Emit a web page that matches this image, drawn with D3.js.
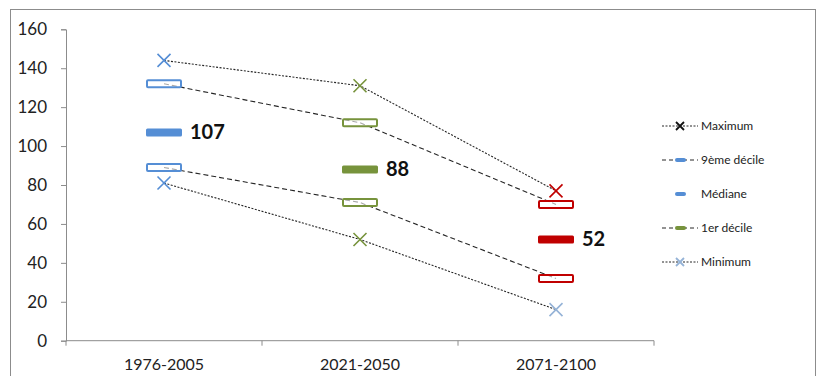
<!DOCTYPE html>
<html>
<head>
<meta charset="utf-8">
<script src="https://cdn.jsdelivr.net/npm/d3@7"></script>
<style>
  body { margin: 0; background: #fff; }
  svg { display: block; font-family: Lato, "Open Sans", sans-serif; }
</style>
</head>
<body>
<div id="chart"></div>
<script>
// data
const periods = ["1976-2005", "2021-2050", "2071-2100"];
const maximum = [144, 131, 77];
const decile9 = [132, 112, 70];
const mediane = [107, 88, 52];
const decile1 = [89, 71, 32];
const minimum = [81, 52, 16];
const yTicks = [0, 20, 40, 60, 80, 100, 120, 140, 160];

const periodColors = ["#558ED5", "#77933C", "#C00000"];
const minColors = ["#558ED5", "#77933C", "#95B3D7"];

const width = 821, height = 376;

const svg = d3.select("#chart").append("svg")
    .attr("width", width)
    .attr("height", height);

// outer frame (bottom is cut off in the original)
svg.append("rect")
    .attr("x", 10.5).attr("y", 9.5)
    .attr("width", 805).attr("height", 420)
    .attr("fill", "#fff")
    .attr("stroke", "#8c8c8c");

const x = d3.scaleBand().domain(periods).range([66, 654]);
const y = d3.scaleLinear().domain([0, 160]).range([340.7, 29.3]);
const cx = p => x(p) + x.bandwidth() / 2;

// y axis
const yAxis = svg.append("g")
    .attr("transform", "translate(66,0)")
    .call(d3.axisLeft(y).tickValues(yTicks).tickSize(5).tickPadding(14));
yAxis.selectAll("path, line").attr("stroke", "#8c8c8c");
yAxis.selectAll("text")
    .attr("font-size", 17)
    .attr("fill", "#222")
    .attr("font-family", "Lato, sans-serif");

// x axis
const xAxis = svg.append("g")
    .attr("transform", `translate(0,${y(0)})`)
    .call(d3.axisBottom(x).tickSize(0).tickPadding(18));
xAxis.select("path").attr("stroke", "#8c8c8c").attr("d", `M66,0H654`);
xAxis.selectAll("text")
    .attr("font-size", 16)
    .attr("fill", "#222")
    .attr("font-family", "Lato, sans-serif");
// boundary ticks between categories
const bounds = periods.map(p => x(p)).concat([x(periods[2]) + x.bandwidth()]);
svg.append("g").selectAll("line")
    .data(bounds)
    .join("line")
    .attr("x1", d => d).attr("x2", d => d)
    .attr("y1", y(0)).attr("y2", y(0) + 5)
    .attr("stroke", "#8c8c8c");

// connecting lines
const line = d3.line().x((d, i) => cx(periods[i])).y(d => y(d));
const lineSeries = [
  { vals: maximum, dash: "2,1.5" },
  { vals: decile9, dash: "5,3" },
  { vals: decile1, dash: "5,3" },
  { vals: minimum, dash: "2,1.5" }
];
svg.append("g").selectAll("path")
    .data(lineSeries)
    .join("path")
    .attr("d", d => line(d.vals))
    .attr("fill", "none")
    .attr("stroke", "#262626")
    .attr("stroke-width", 1.1)
    .attr("stroke-dasharray", d => d.dash);

// X markers
function cross(g, px, py, r, color, sw) {
  g.append("path")
      .attr("d", `M${px - r},${py - r}L${px + r},${py + r}M${px - r},${py + r}L${px + r},${py - r}`)
      .attr("stroke", color)
      .attr("stroke-width", sw)
      .attr("fill", "none");
}
const marks = svg.append("g");
periods.forEach((p, i) => {
  cross(marks, cx(p), y(maximum[i]), 6.5, periodColors[i], 1.6);
  cross(marks, cx(p), y(minimum[i]), 6.5, minColors[i], 1.6);
});

// decile boxes (hollow)
const boxW = 34, boxH = 7;
[decile9, decile1].forEach(vals => {
  marks.selectAll(null)
      .data(vals)
      .join("rect")
      .attr("x", (d, i) => cx(periods[i]) - boxW / 2)
      .attr("y", d => y(d) - boxH / 2)
      .attr("width", boxW).attr("height", boxH)
      .attr("rx", 1)
      .attr("fill", "#fff")
      .attr("fill-opacity", 0.6)
      .attr("stroke", (d, i) => periodColors[i])
      .attr("stroke-width", 2);
});

// median bars + labels
marks.selectAll(null)
    .data(mediane)
    .join("rect")
    .attr("x", (d, i) => cx(periods[i]) - 18)
    .attr("y", d => y(d) - 4)
    .attr("width", 36).attr("height", 8)
    .attr("rx", 1.5)
    .attr("fill", (d, i) => periodColors[i]);

marks.selectAll(null)
    .data(mediane)
    .join("text")
    .attr("x", (d, i) => cx(periods[i]) + 26)
    .attr("y", d => y(d) + 7)
    .attr("font-size", 20)
    .attr("font-weight", "bold")
    .attr("fill", "#111")
    .text(d => d);

// legend
const legendItems = [
  { name: "Maximum", type: "x", color: "#111", dash: "2,1.5" },
  { name: "9ème décile", type: "bar", color: "#558ED5", dash: "4,3" },
  { name: "Médiane", type: "bar", color: "#558ED5", dash: null },
  { name: "1er décile", type: "bar", color: "#77933C", dash: "4,3" },
  { name: "Minimum", type: "x", color: "#95B3D7", dash: "2,1.5" }
];
const legend = svg.append("g");
legendItems.forEach((it, i) => {
  const ly = 126 + i * 34;
  const g = legend.append("g");
  if (it.dash) {
    g.append("line")
        .attr("x1", 662).attr("x2", 698)
        .attr("y1", ly).attr("y2", ly)
        .attr("stroke", "#262626")
        .attr("stroke-dasharray", it.dash);
  }
  if (it.type === "x") {
    cross(g, 680, ly, 4, it.color, 1.8);
  } else {
    g.append("rect")
        .attr("x", 675).attr("y", ly - 2)
        .attr("width", 11).attr("height", 4)
        .attr("rx", 2)
        .attr("fill", it.color);
  }
  g.append("text")
      .attr("x", 701).attr("y", ly + 4)
      .attr("font-size", 12)
      .attr("fill", "#222")
      .text(it.name);
});
</script>
</body>
</html>
